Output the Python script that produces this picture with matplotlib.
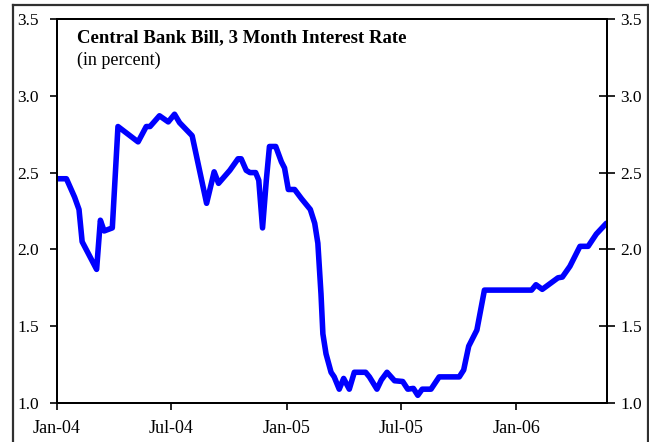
import matplotlib
matplotlib.use("Agg")
import matplotlib.pyplot as plt
from matplotlib.lines import Line2D
import pandas as pd

plt.rcParams['font.family'] = ['Liberation Serif', 'DejaVu Serif']

dates = ["2004-01-01", "2004-01-16", "2004-01-29", "2004-02-05", "2004-02-10", "2004-03-04",
         "2004-03-10", "2004-03-16", "2004-03-29", "2004-04-07", "2004-05-09", "2004-05-22",
         "2004-05-28", "2004-06-12", "2004-06-26", "2004-07-06", "2004-07-14", "2004-08-03",
         "2004-08-26", "2004-09-07", "2004-09-14", "2004-10-02", "2004-10-15", "2004-10-20",
         "2004-10-28", "2004-11-03", "2004-11-12", "2004-11-17", "2004-11-23", "2004-11-29",
         "2004-12-04", "2004-12-14", "2004-12-23", "2004-12-28", "2005-01-03", "2005-01-13",
         "2005-01-24", "2005-02-07", "2005-02-14", "2005-02-19", "2005-02-24", "2005-02-27",
         "2005-03-04", "2005-03-12", "2005-03-17", "2005-03-25", "2005-04-01", "2005-04-10",
         "2005-04-18", "2005-05-06", "2005-05-12", "2005-05-24", "2005-05-31", "2005-06-09",
         "2005-06-21", "2005-07-04", "2005-07-12", "2005-07-21", "2005-07-28", "2005-08-04",
         "2005-08-18", "2005-08-31", "2005-10-02", "2005-10-09", "2005-10-17", "2005-10-30",
         "2005-11-11", "2006-01-25", "2006-02-01", "2006-02-11", "2006-03-08", "2006-03-15",
         "2006-03-27", "2006-04-12", "2006-04-25", "2006-05-08", "2006-05-24"]
rates = [2.46, 2.46, 2.34, 2.26, 2.05, 1.87,
         2.19, 2.12, 2.14, 2.80, 2.70, 2.80,
         2.80, 2.87, 2.83, 2.88, 2.825, 2.74,
         2.30, 2.505, 2.43, 2.515, 2.59, 2.59,
         2.515, 2.50, 2.50, 2.45, 2.14, 2.45,
         2.67, 2.67, 2.57, 2.53, 2.39, 2.39,
         2.33, 2.26, 2.17, 2.04, 1.71, 1.45,
         1.32, 1.20, 1.17, 1.09, 1.16, 1.09,
         1.20, 1.20, 1.17, 1.09, 1.15, 1.20,
         1.145, 1.14, 1.09, 1.095, 1.05, 1.09,
         1.09, 1.17, 1.17, 1.215, 1.37, 1.475,
         1.735, 1.735, 1.77, 1.74, 1.815, 1.82,
         1.89, 2.02, 2.02, 2.10, 2.17]

x_ticks = ["2004-01-01", "2004-07-01", "2005-01-01", "2005-07-01", "2006-01-01"]
x_tick_labels = ["Jan-04", "Jul-04", "Jan-05", "Jul-05", "Jan-06"]
y_ticks = [1.0, 1.5, 2.0, 2.5, 3.0, 3.5]
y_tick_labels = ["1.0", "1.5", "2.0", "2.5", "3.0", "3.5"]
title = "Central Bank Bill, 3 Month Interest Rate"
subtitle = "(in percent)"

W, H = 649, 442
fig = plt.figure(figsize=(W / 100, H / 100), dpi=100)
ax = fig.add_axes([57 / W, 1 - 403 / H, (607 - 57) / W, (403 - 19) / H])

d = pd.to_datetime(dates)
ax.plot(d, rates, color="#0000FF", lw=4.0, solid_joinstyle="round", solid_capstyle="round")

ax.set_xlim(pd.Timestamp("2004-01-01"), pd.Timestamp("2006-05-25"))
ax.set_ylim(1.0, 3.5)
ax.set_xticks(pd.to_datetime(x_ticks))
ax.set_xticklabels(x_tick_labels, fontsize=13)
ax.set_yticks(y_ticks)
ax.set_yticklabels(y_tick_labels, fontsize=12.5)
ax.tick_params(axis="x", direction="out", length=5, width=1.2, pad=7)
ax.tick_params(axis="y", direction="out", length=5, width=1.2, pad=8)
for s in ax.spines.values():
    s.set_linewidth(1.4)
    s.set_color("black")

ax2 = ax.twinx()
ax2.set_ylim(1.0, 3.5)
ax2.set_yticks(y_ticks)
ax2.set_yticklabels(y_tick_labels, fontsize=12.5)
ax2.tick_params(axis="y", direction="inout", length=11, width=1.2, pad=4)
for s in ax2.spines.values():
    s.set_linewidth(1.4)

fig.text(77 / W, 1 - 42 / H, title, fontsize=13.5, fontweight="bold", ha="left", va="baseline")
fig.text(77 / W, 1 - 65 / H, subtitle, fontsize=13, ha="left", va="baseline")

# outer frame
fc = "#303030"
fig.add_artist(Line2D([13 / W, 13 / W], [0, 1 - 5 / H], transform=fig.transFigure, color=fc, lw=1.6))
fig.add_artist(Line2D([13 / W, 647.5 / W], [1 - 5 / H, 1 - 5 / H], transform=fig.transFigure, color=fc, lw=1.6))
fig.add_artist(Line2D([647.5 / W, 647.5 / W], [0, 1 - 5 / H], transform=fig.transFigure, color=fc, lw=1.6))

fig.savefig("out.png", dpi=100)
